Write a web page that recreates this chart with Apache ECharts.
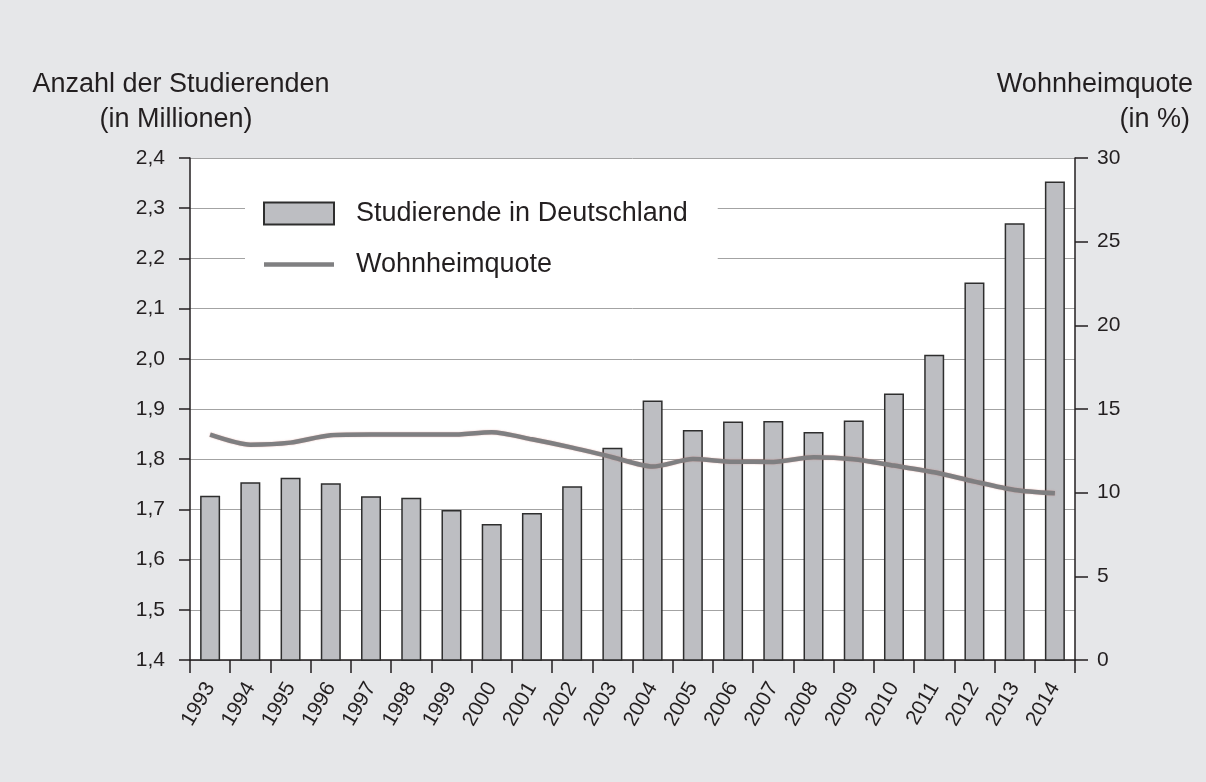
<!DOCTYPE html>
<html>
<head>
<meta charset="utf-8">
<script src="https://cdn.jsdelivr.net/npm/echarts@6/dist/echarts.min.js"></script>
<style>
  html, body { margin: 0; padding: 0; background: #e6e7e9; }
  #chart { width: 1206px; height: 782px; }
</style>
</head>
<body>
<div id="chart"></div>
<script>
const years = ['1993','1994','1995','1996','1997','1998','1999','2000','2001','2002','2003','2004','2005','2006','2007','2008','2009','2010','2011','2012','2013','2014'];
const studierende = [1.727,1.754,1.763,1.752,1.726,1.723,1.699,1.671,1.693,1.746,1.823,1.917,1.858,1.875,1.876,1.854,1.877,1.931,2.008,2.152,2.270,2.353];
const wohnheimquote = [13.47,12.87,12.99,13.43,13.47,13.47,13.47,13.61,13.19,12.69,12.12,11.56,12.01,11.85,11.84,12.12,12.0,11.62,11.22,10.66,10.16,9.96];
const seriesNames = ['Studierende in Deutschland', 'Wohnheimquote'];
const leftTitle = ['Anzahl der Studierenden', '(in Millionen)'];
const rightTitle = ['Wohnheimquote', '(in %)'];

const FONT = '"Liberation Sans", Arial, Helvetica, sans-serif';
const TXT = '#231f20';
const LINE = '#7f7f81';

const chart = echarts.init(document.getElementById('chart'), null, { renderer: 'canvas' });
chart.setOption({
  backgroundColor: '#e6e7e9',
  animation: false,
  textStyle: { fontFamily: FONT, color: TXT },
  graphic: [
    { type: 'text', x: 181, y: 85, style: { text: leftTitle[0], font: '27px ' + FONT, fill: TXT, align: 'center', verticalAlign: 'middle' } },
    { type: 'text', x: 176, y: 120, style: { text: leftTitle[1], font: '27px ' + FONT, fill: TXT, align: 'center', verticalAlign: 'middle' } },
    { type: 'text', x: 1193, y: 85, style: { text: rightTitle[0], font: '27px ' + FONT, fill: TXT, align: 'right', verticalAlign: 'middle' } },
    { type: 'text', x: 1190, y: 120, style: { text: rightTitle[1], font: '27px ' + FONT, fill: TXT, align: 'right', verticalAlign: 'middle' } }
  ],
  legend: {
    orient: 'vertical',
    left: 245,
    top: 186,
    backgroundColor: '#ffffff',
    padding: [14, 30, 14, 18],
    itemWidth: 70,
    itemHeight: 22,
    itemGap: 24,
    textStyle: { fontSize: 27, color: TXT, fontFamily: FONT, padding: [0, 0, 0, 17] },
    data: [
      { name: seriesNames[0], icon: 'rect' },
      { name: seriesNames[1], icon: 'path://M0,0 H70 V4.5 H0 Z', itemStyle: { color: LINE, borderWidth: 0 } }
    ]
  },
  grid: {
    left: 190, right: 131, top: 158, bottom: 122,
    show: true, backgroundColor: '#ffffff', borderWidth: 0
  },
  xAxis: {
    type: 'category',
    data: years,
    boundaryGap: true,
    axisLine: { lineStyle: { color: TXT, width: 1.5 } },
    axisTick: { show: true, alignWithLabel: false, length: 13, lineStyle: { color: TXT, width: 1.5 } },
    axisLabel: { rotate: 60, fontSize: 21, color: TXT, margin: 24, interval: 0, fontFamily: FONT }
  },
  yAxis: [
    {
      type: 'value', min: 1.4, max: 2.4, interval: 0.1,
      axisLine: { show: true, lineStyle: { color: TXT, width: 1.5 } },
      axisTick: { show: true, length: 11, lineStyle: { color: TXT, width: 1.5 } },
      axisLabel: { fontSize: 21, color: TXT, margin: 25, fontFamily: FONT,
        formatter: v => (Math.round(v * 10) / 10).toFixed(1).replace('.', ',') },
      splitLine: { show: true, lineStyle: { color: '#a3a3a3', width: 1 } }
    },
    {
      type: 'value', min: 0, max: 30, interval: 5, position: 'right',
      axisLine: { show: true, lineStyle: { color: TXT, width: 1.5 } },
      axisTick: { show: true, length: 13, lineStyle: { color: TXT, width: 1.5 } },
      axisLabel: { fontSize: 21, color: TXT, margin: 22, fontFamily: FONT },
      splitLine: { show: false }
    }
  ],
  series: [
    {
      name: seriesNames[0],
      type: 'bar',
      yAxisIndex: 0,
      barWidth: 20,
      data: studierende,
      itemStyle: { color: '#bdbec2', borderColor: '#2e2e2e', borderWidth: 1.5 },
      z: 2
    },
    {
      name: seriesNames[1],
      type: 'line',
      yAxisIndex: 1,
      data: wohnheimquote,
      smooth: 0.25,
      symbol: 'none',
      showSymbol: false,
      lineStyle: { color: LINE, width: 4.5, shadowColor: 'rgba(200,110,100,0.55)', shadowBlur: 1.5 },
      itemStyle: { color: LINE },
      z: 5
    }
  ]
});
</script>
</body>
</html>
